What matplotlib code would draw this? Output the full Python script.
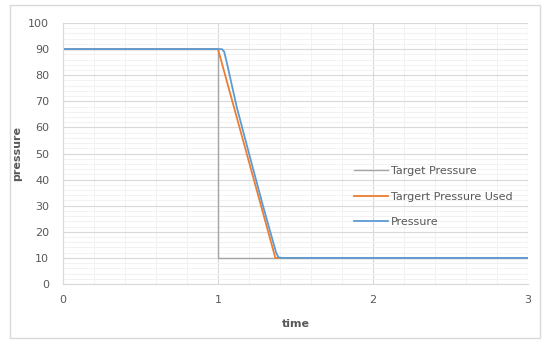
import matplotlib.pyplot as plt
from matplotlib.patches import Rectangle
from matplotlib.ticker import MultipleLocator

# series
target_t = [0, 1, 1, 3]
target_p = [90, 90, 10, 10]

used_t = [0, 1, 1.37, 1.53]
used_p = [90, 90, 10, 10]

press_t = [0, 1.025, 1.04, 1.06, 1.12, 1.2, 1.29, 1.375, 1.39, 1.41, 3]
press_p = [90, 90, 89, 84, 68, 50, 30, 12, 10.2, 10, 10]

fig = plt.figure(figsize=(5.42, 3.4), dpi=100)
ax = fig.add_axes([63 / 542, 56 / 340, 465 / 542, 261 / 340])

# outer chart frame
fig.patches.append(Rectangle((10 / 542, 2 / 340), 530 / 542, 333 / 340,
                             transform=fig.transFigure, fill=False,
                             edgecolor='#d9d9d9', linewidth=1))

ax.plot(target_t, target_p, color='#a5a5a5', linewidth=1.0, label='Target Pressure')
ax.plot(used_t, used_p, color='#ed7d31', linewidth=1.3, label='Targert Pressure Used')
ax.plot(press_t, press_p, color='#5b9bd5', linewidth=1.3, label='Pressure')

ax.set_xlim(0, 3)
ax.set_ylim(0, 100)
ax.xaxis.set_major_locator(MultipleLocator(1))
ax.xaxis.set_minor_locator(MultipleLocator(0.2))
ax.yaxis.set_major_locator(MultipleLocator(10))
ax.yaxis.set_minor_locator(MultipleLocator(2))
ax.grid(which='major', color='#d9d9d9', linewidth=0.8)
ax.grid(which='minor', color='#f2f2f2', linewidth=0.7)
ax.set_axisbelow(True)

for s in ['top', 'right']:
    ax.spines[s].set_visible(False)
ax.spines['left'].set_color('#d9d9d9')
ax.spines['bottom'].set_color('#d9d9d9')
ax.tick_params(which='both', length=0, colors='#595959', labelsize=8)
ax.tick_params(axis='x', pad=8)
ax.tick_params(axis='y', pad=10)

ax.set_xlabel('time', fontsize=8, fontweight='bold', color='#595959', labelpad=10)
ax.set_ylabel('pressure', fontsize=8, fontweight='bold', color='#595959', labelpad=4)

leg = ax.legend(loc='center left', bbox_to_anchor=(0.605, 0.335), frameon=False,
                fontsize=8, handlelength=3.0, labelspacing=1.4, handletextpad=0.3)
for t in leg.get_texts():
    t.set_color('#595959')

fig.savefig('out.png', dpi=100)
